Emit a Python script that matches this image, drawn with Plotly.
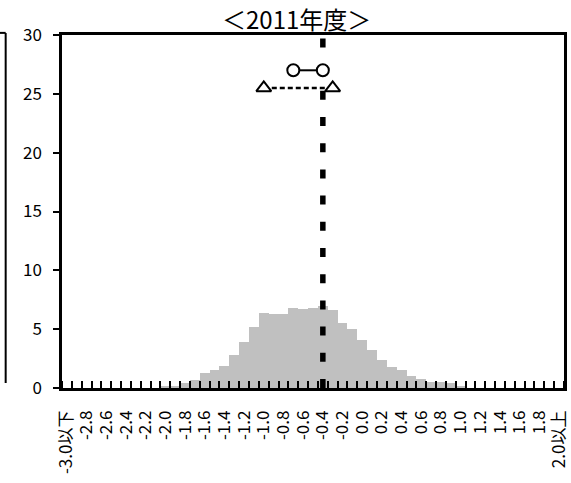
import plotly.graph_objects as go

# ---- data ----
bin_centers = [-3.0, -2.9, -2.8, -2.7, -2.6, -2.5, -2.4, -2.3, -2.2, -2.1,
               -2.0, -1.9, -1.8, -1.7, -1.6, -1.5, -1.4, -1.3, -1.2, -1.1,
               -1.0, -0.9, -0.8, -0.7, -0.6, -0.5, -0.4, -0.3, -0.2, -0.1,
               0.0, 0.1, 0.2, 0.3, 0.4, 0.5, 0.6, 0.7, 0.8, 0.9,
               1.0, 1.1, 1.2, 1.3, 1.4, 1.5, 1.6, 1.7, 1.8, 1.9, 2.0]

shares = [0, 0, 0, 0, 0, 0, 0, 0, 0, 0,
          0.2, 0.2, 0.4, 0.7, 1.3, 1.5, 1.9, 2.8, 3.9, 5.2,
          6.4, 6.3, 6.3, 6.8, 6.7, 6.8, 7.0, 6.6, 5.5, 5.0,
          4.1, 3.2, 2.4, 1.8, 1.5, 1.0, 0.8, 0.5, 0.5, 0.4,
          0.2, 0, 0, 0, 0, 0, 0, 0, 0, 0, 0]

tick_labels = ["-3.0以下", "-2.8", "-2.6", "-2.4", "-2.2", "-2.0", "-1.8", "-1.6",
               "-1.4", "-1.2", "-1.0", "-0.8", "-0.6", "-0.4", "-0.2", "0.0",
               "0.2", "0.4", "0.6", "0.8", "1.0", "1.2", "1.4", "1.6", "1.8", "2.0以上"]
tick_positions = bin_centers[::2]

y_ticks = [0, 5, 10, 15, 20, 25, 30]

median_x = [-0.4, -0.4]
median_y = [0, 30]

circle_x = [-0.7, -0.4]
circle_y = [27, 27]

triangle_x = [-1.0, -0.3]
triangle_y = [25.5, 25.5]

title_text = "＜2011年度＞"

# ---- figure ----
fig = go.Figure()

fig.add_trace(go.Bar(
    x=bin_centers, y=shares, width=0.1,
    marker=dict(color="#c0c0c0", line=dict(width=0)),
    hoverinfo="skip",
))

fig.add_trace(go.Scatter(
    x=median_x, y=median_y, mode="lines",
    line=dict(color="black", width=5.5, dash="9px,17.2px"),
    hoverinfo="skip",
))

fig.add_trace(go.Scatter(
    x=triangle_x, y=triangle_y, mode="lines+markers",
    line=dict(color="black", width=2.5, dash="5px,3px"),
    marker=dict(symbol="triangle-up", size=13, color="white",
                line=dict(color="black", width=2)),
    hoverinfo="skip",
))

fig.add_trace(go.Scatter(
    x=circle_x, y=circle_y, mode="lines+markers",
    line=dict(color="black", width=2),
    marker=dict(symbol="circle", size=12, color="white",
                line=dict(color="black", width=2)),
    hoverinfo="skip",
))

cjk = "Noto Sans CJK JP"

fig.update_layout(
    width=571, height=483,
    margin=dict(l=62, r=1, t=35, b=95),
    paper_bgcolor="white", plot_bgcolor="white",
    showlegend=False, bargap=0,
    title=dict(text=title_text, font=dict(family=cjk, size=24, color="black"),
               xref="paper", x=0.4675, xanchor="center",
               yref="container", y=1 - 21 / 483, yanchor="middle"),
    xaxis=dict(
        range=[-3.05, 2.05], tickmode="array",
        tickvals=tick_positions, ticktext=tick_labels, tickangle=-90,
        ticks="", showline=True, linecolor="black", linewidth=2.5, mirror=True,
        showgrid=False, zeroline=False, ticklabelstandoff=13,
        ticklabeloverflow="allow",
        tickfont=dict(family=cjk, size=17, color="black"),
        minor=dict(tickmode="linear", tick0=-3.05, dtick=0.1, ticks="inside",
                   ticklen=7, tickwidth=2, tickcolor="black", showgrid=False),
    ),
    yaxis=dict(
        range=[0, 30], tickmode="array", tickvals=y_ticks,
        ticks="outside", ticklen=6, tickwidth=2, tickcolor="black",
        showline=True, linecolor="black", linewidth=2.5, mirror=True,
        showgrid=False, zeroline=False, ticklabelstandoff=8,
        tickfont=dict(family=cjk, size=17, color="black"),
    ),
    shapes=[
        dict(type="line", xref="paper", yref="paper", x0=-0.1122, x1=-0.1122,
             y0=0.014, y1=1.006, line=dict(color="black", width=2)),
        dict(type="line", xref="paper", yref="paper", x0=-0.13, x1=-0.1122,
             y0=1.006, y1=1.006, line=dict(color="black", width=2)),
    ],
)

fig.write_html(
    "out.html",
    config={"displayModeBar": False},
    post_script="document.body.style.margin='0px';document.body.style.overflow='hidden';",
)
